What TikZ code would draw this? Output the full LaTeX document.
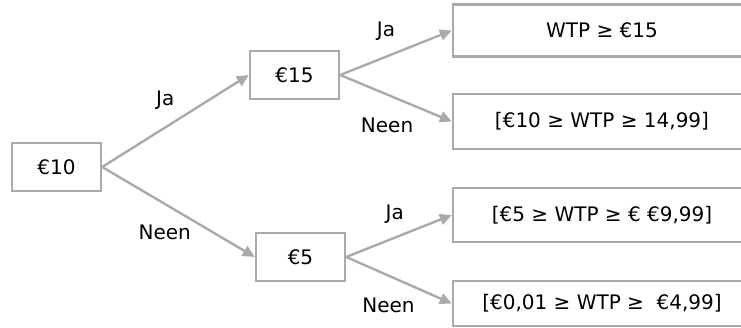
\documentclass[tikz,border=0pt]{standalone}
\usepackage{fontspec}
\setmainfont{DejaVu Sans}
\usetikzlibrary{positioning,arrows.meta}
\definecolor{treegray}{RGB}{172,169,169}

\begin{document}
\begin{tikzpicture}[x=1pt,y=1pt,
    valbox/.style={draw=treegray,line width=2.4pt,minimum width=89pt,minimum height=48pt,inner sep=0pt},
    rangebox/.style={minimum width=298pt,minimum height=52pt,inner sep=0pt,outer sep=1.2pt},
    boxline/.style={draw=treegray,line width=2.4pt},
    lbl/.style={inner sep=0pt},
    arr/.style={draw=treegray,line width=2.4pt,-{Triangle[length=12pt,width=11pt]}},
    font=\fontsize{20}{24}\selectfont]
    \useasboundingbox (-56.5,-161) rectangle (684.5,167);
    \node[valbox] (n10) {€10};
    \node[valbox, right=146.6pt of n10, yshift=92pt] (n15) {€15};
    \node[valbox, right=152.6pt of n10, yshift=-90pt] (n5) {€5};
    \node[rangebox, right=111.6pt of n15, yshift=44.5pt] (r1) {WTP ≥ €15};
    \node[rangebox, right=111.6pt of n15, yshift=-46.5pt, minimum height=55pt] (r2) {[€10 ≥ WTP ≥ 14,99]};
    \node[rangebox, right=105.6pt of n5, yshift=42pt, minimum height=54pt] (r3) {[€5 ≥ WTP ≥ € €9,99]};
    \node[rangebox, right=105.6pt of n5, yshift=-46.5pt, minimum height=45pt] (r4) {[€0,01 ≥ WTP ≥ ~€4,99]};
    \foreach \r in {r1,r2,r3,r4}
        \draw[boxline] ([xshift=-1.2pt,yshift=-1.2pt]\r.north east) -| ([xshift=1.2pt,yshift=1.2pt]\r.south west) -- ([xshift=-1.2pt,yshift=1.2pt]\r.south east);
    \draw[arr] (n10.east) -- node[lbl, pos=0.43, yshift=27pt] (l1) {Ja} (n15.west);
    \draw[arr] (n10.east) -- node[lbl, pos=0.41, yshift=-28pt] (l2) {Neen} (n5.west);
    \draw[arr] (n15.east) -- node[lbl, pos=0.41, yshift=26pt] (l3) {Ja} (r1.west);
    \draw[arr] (n15.east) -- node[lbl, pos=0.42, yshift=-30.5pt] (l4) {Neen} (r2.west);
    \draw[arr] (n5.east) -- node[lbl, pos=0.46, yshift=23.5pt] (l5) {Ja} (r3.west);
    \draw[arr] (n5.east) -- node[lbl, pos=0.4, yshift=-29.5pt] (l6) {Neen} (r4.west);
\end{tikzpicture}
\end{document}
